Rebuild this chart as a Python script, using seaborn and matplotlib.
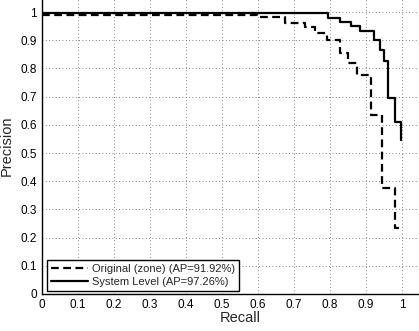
import numpy as np
import seaborn as sns
import matplotlib.pyplot as plt
from matplotlib.ticker import FormatStrFormatter

# step points (recall where precision changes, precision from there on)
orig_recall = [0, 0.596, 0.675, 0.731, 0.758, 0.791, 0.828, 0.850, 0.874, 0.914, 0.945, 0.981, 0.994]
orig_precision = [0.991, 0.983, 0.962, 0.948, 0.927, 0.901, 0.854, 0.820, 0.777, 0.635, 0.375, 0.233, 0.233]

sys_recall = [0, 0.795, 0.828, 0.857, 0.883, 0.922, 0.939, 0.950, 0.960, 0.981, 0.997]
sys_precision = [0.997, 0.978, 0.966, 0.950, 0.934, 0.901, 0.865, 0.827, 0.694, 0.611, 0.546]

labels = ['Original (zone) (AP=91.92%)', 'System Level (AP=97.26%)']
ticks = np.round(np.arange(0, 1.01, 0.1), 1)

sns.set_style('white')
plt.rcParams['font.family'] = ['Liberation Sans', 'DejaVu Sans']

fig = plt.figure(figsize=(4.19, 3.31), dpi=100)
ax = fig.add_axes([42 / 419, 37 / 331, 396 / 419, 296 / 331])

sns.lineplot(x=orig_recall, y=orig_precision, sort=False, drawstyle='steps-post',
             color='black', lw=1.6, linestyle=(0, (3.5, 2)), label=labels[0], ax=ax)
sns.lineplot(x=sys_recall, y=sys_precision, sort=False, drawstyle='steps-post',
             color='black', lw=1.6, label=labels[1], ax=ax)

ax.set_xlim(0, 1.1)
ax.set_ylim(0, 1.05)
ax.set_xticks(ticks)
ax.set_yticks(ticks)
ax.xaxis.set_major_formatter(FormatStrFormatter('%g'))
ax.yaxis.set_major_formatter(FormatStrFormatter('%g'))
ax.tick_params(direction='in', length=3, width=0.8, labelsize=8.5, colors='black')
ax.grid(True, linestyle=(0, (1, 3)), color='0.35', lw=0.6)
for s in ax.spines.values():
    s.set_color('black')
    s.set_linewidth(1.0)

ax.set_xlabel('Recall', fontsize=10.5, labelpad=0)
ax.set_ylabel('Precision', fontsize=10.5, labelpad=5)

leg = ax.legend(loc='lower left', bbox_to_anchor=(0.012, 0.01), borderaxespad=0,
                fontsize=8, handlelength=3.4, handletextpad=0.3, borderpad=0.35,
                labelspacing=0.25, fancybox=False, framealpha=1)
leg.get_frame().set_edgecolor('black')
leg.get_frame().set_linewidth(1.0)

fig.savefig('out.png', dpi=100)
